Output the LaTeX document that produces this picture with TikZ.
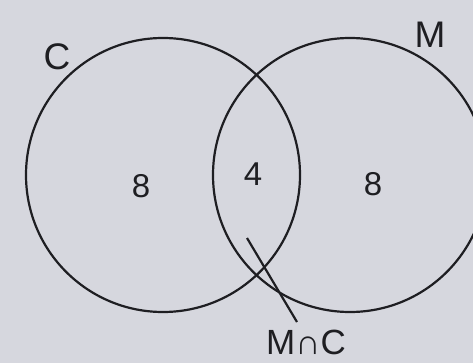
\documentclass[tikz,border=0pt]{standalone}
\usepackage{fontspec}
\setmainfont{Liberation Sans}
\definecolor{paper}{RGB}{214,215,222}
\definecolor{ink}{RGB}{30,30,34}
\begin{document}
\begin{tikzpicture}[x=1pt,y=-1pt,
  setc/.style={circle,draw=ink,line width=2.2pt,minimum size=274pt,inner sep=0pt},
  num/.style={text=ink,font=\fontsize{33}{35}\selectfont,inner sep=0pt},
  lab/.style={text=ink,font=\fontsize{37}{40}\selectfont,inner sep=0pt}]
\fill[paper] (0,0) rectangle (473,363);
\useasboundingbox (0,0) rectangle (473,363);
\clip (0,0) rectangle (473,363);
\node[setc] (C) at (163,175) {};
\node[setc] (M) at (350,175) {};
\node[lab] (lc) at (57,57) {C};
\node[lab] (lm) at (430,35) {M};
\node[num] (n1) at (141,186) {8};
\node[num] (n2) at (253,174) {4};
\node[num] (n3) at (373,184) {8};
\node[lab,anchor=south,font=\fontsize{35}{38}\selectfont] (mc) at (306,355) {M∩C};
\coordinate (tip) at (247,238);
\coordinate (foot) at (297,322);
\draw[ink,line width=2.2pt] (tip) -- (foot);
\end{tikzpicture}
\end{document}
